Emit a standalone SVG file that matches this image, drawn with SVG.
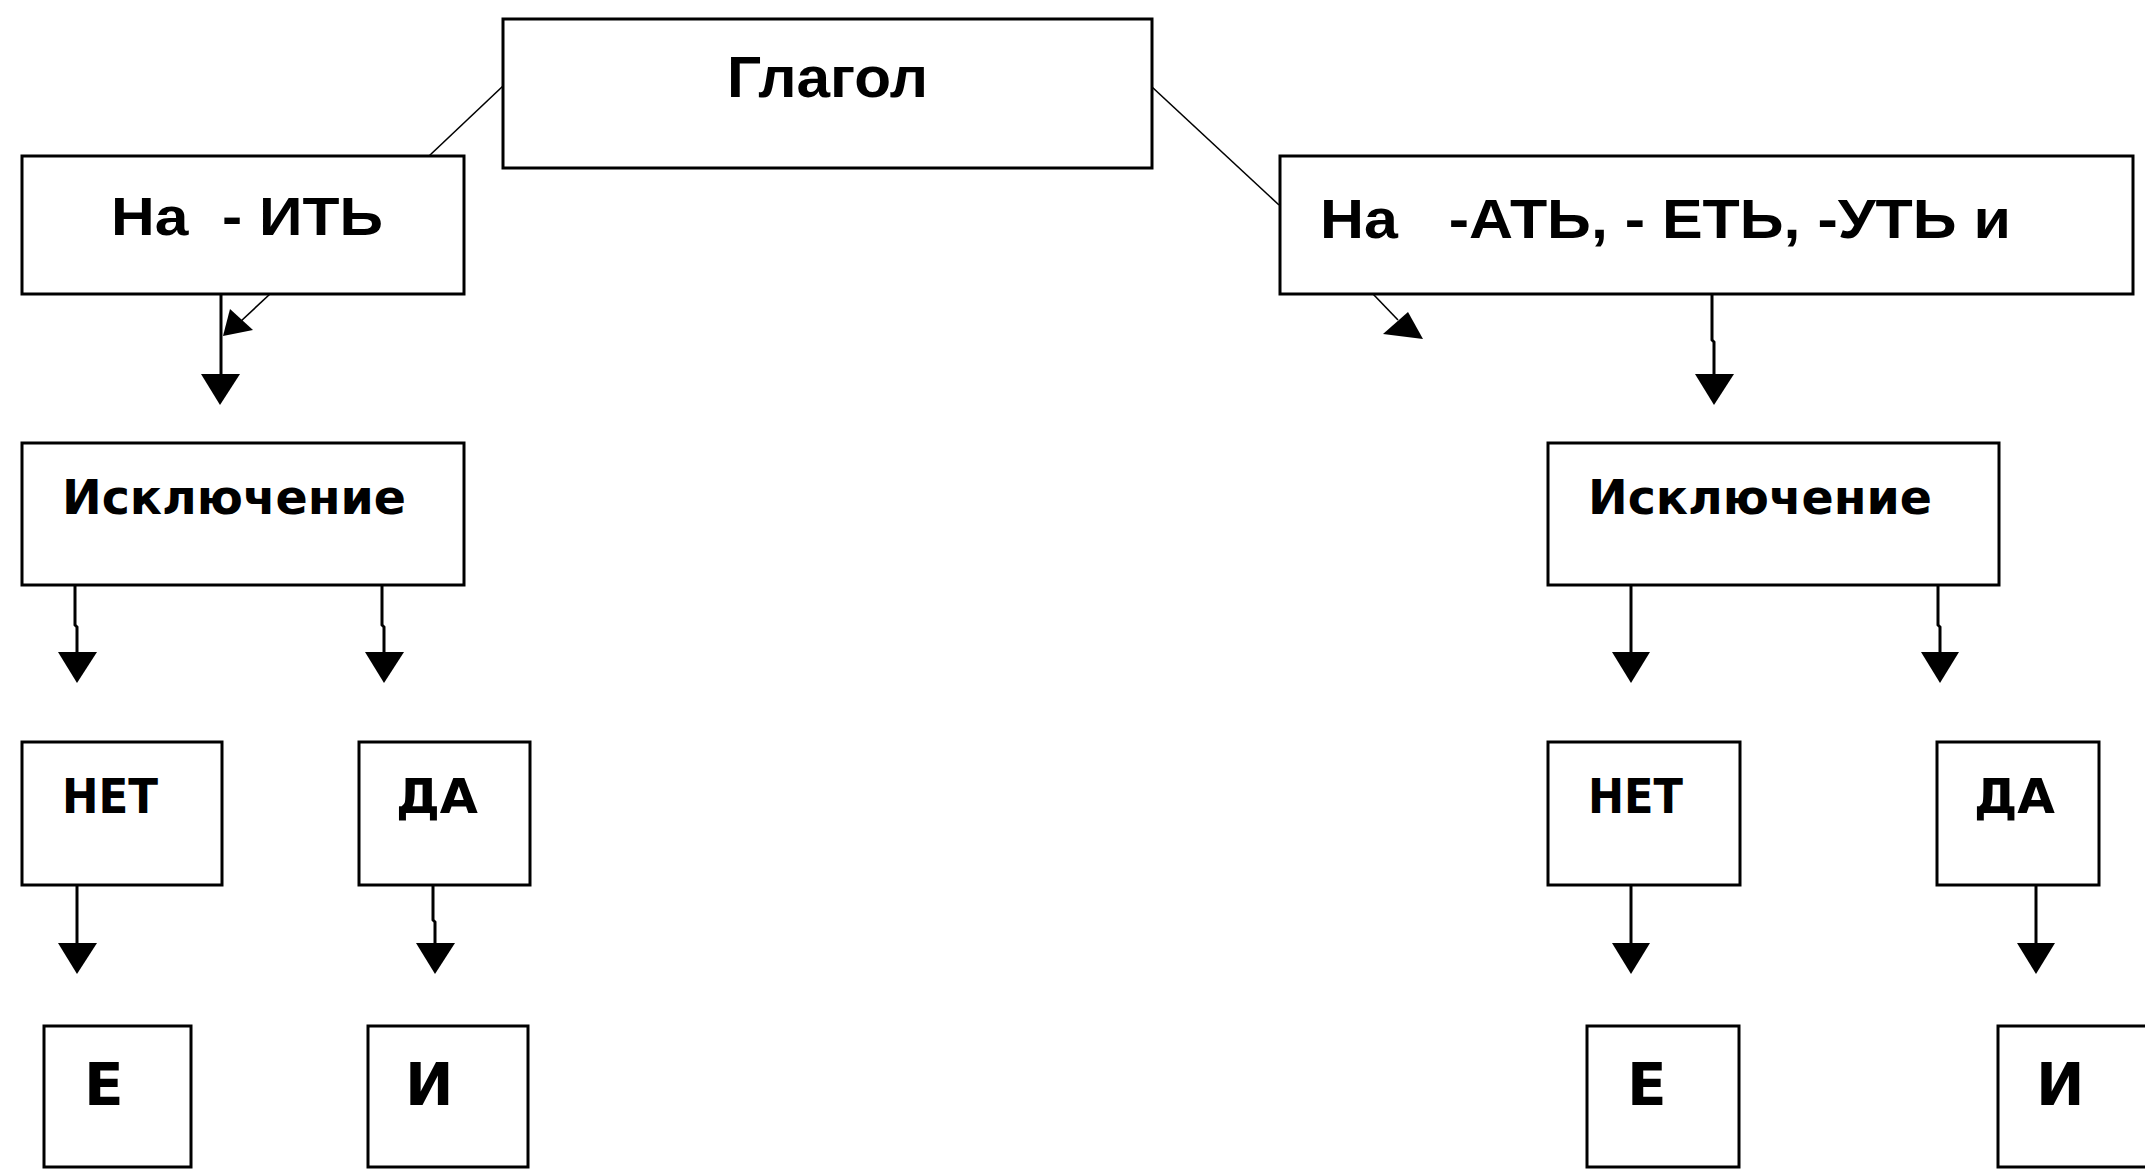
<svg xmlns="http://www.w3.org/2000/svg" width="2145" height="1169" viewBox="0 0 2145 1169">
<style>
.box{fill:#fff;stroke:#000;stroke-width:3}
.t1{font-family:"Liberation Sans",Arial,sans-serif;font-weight:bold;fill:#000}
.t2{font-family:"DejaVu Sans",Verdana,sans-serif;font-weight:bold;fill:#000}
.ln{fill:none;stroke:#000;stroke-width:3}
.thin{fill:none;stroke:#000;stroke-width:1.6}
.ah{fill:#000;stroke:none}
</style>
<rect width="2145" height="1169" fill="#fff"/>
<g id="connectors">
<line class="thin" x1="503" y1="86" x2="429" y2="156"/>
<line class="thin" x1="1152" y1="87" x2="1279" y2="205"/>
<line class="ln" x1="221" y1="294" x2="221" y2="378"/>
<polygon class="ah" points="201,374 240,374 220,405"/>
<line class="thin" x1="270" y1="294" x2="240" y2="322"/>
<polygon class="ah" points="230,309 253,330 223,336"/>
<line class="thin" x1="1373" y1="294" x2="1398" y2="320"/>
<polygon class="ah" points="1383,334 1408,312 1423,339"/>
<polyline class="ln" points="1712,294 1712,340 1714,342 1714,378"/>
<polygon class="ah" points="1695,374 1734,374 1714,405"/>
<polyline class="ln" points="75,585 75,625 77,627 77,656"/>
<polygon class="ah" points="58,652 97,652 77,683"/>
<polyline class="ln" points="382,585 382,625 384,627 384,656"/>
<polygon class="ah" points="365,652 404,652 384,683"/>
<line class="ln" x1="77" y1="885" x2="77" y2="947"/>
<polygon class="ah" points="58,943 97,943 77,974"/>
<polyline class="ln" points="433,885 433,920 435,922 435,947"/>
<polygon class="ah" points="416,943 455,943 435,974"/>
<line class="ln" x1="1631" y1="585" x2="1631" y2="656"/>
<polygon class="ah" points="1612,652 1650,652 1631,683"/>
<polyline class="ln" points="1938,585 1938,625 1940,627 1940,656"/>
<polygon class="ah" points="1921,652 1959,652 1940,683"/>
<line class="ln" x1="1631" y1="885" x2="1631" y2="947"/>
<polygon class="ah" points="1612,943 1650,943 1631,974"/>
<line class="ln" x1="2036" y1="885" x2="2036" y2="947"/>
<polygon class="ah" points="2017,943 2055,943 2036,974"/>
</g>
<g id="glagol"><rect class="box" x="503" y="19" width="649" height="149"/><text class="t1" x="727" y="97" font-size="58" textLength="201" lengthAdjust="spacingAndGlyphs">Глагол</text></g>
<g id="na-it"><rect class="box" x="22" y="156" width="442" height="138"/><text class="t1" x="111" y="235" font-size="54" xml:space="preserve" textLength="272" lengthAdjust="spacingAndGlyphs">На  - ИТЬ</text></g>
<g id="na-at"><rect class="box" x="1280" y="156" width="853" height="138"/><text class="t1" x="1320" y="238" font-size="56" xml:space="preserve" textLength="691" lengthAdjust="spacingAndGlyphs">На   -АТЬ, - ЕТЬ, -УТЬ и</text></g>
<g id="iskl-left"><rect class="box" x="22" y="443" width="442" height="142"/><text class="t2" x="62" y="514" font-size="48" textLength="344" lengthAdjust="spacingAndGlyphs">Исключение</text></g>
<g id="iskl-right"><rect class="box" x="1548" y="443" width="451" height="142"/><text class="t2" x="1588" y="514" font-size="48" textLength="344" lengthAdjust="spacingAndGlyphs">Исключение</text></g>
<g id="net-left"><rect class="box" x="22" y="742" width="200" height="143"/><text class="t2" x="62" y="813" font-size="48" textLength="96" lengthAdjust="spacingAndGlyphs">НЕТ</text></g>
<g id="da-left"><rect class="box" x="359" y="742" width="171" height="143"/><text class="t2" x="396" y="813" font-size="48" textLength="82" lengthAdjust="spacingAndGlyphs">ДА</text></g>
<g id="net-right"><rect class="box" x="1548" y="742" width="192" height="143"/><text class="t2" x="1588" y="813" font-size="48" textLength="95" lengthAdjust="spacingAndGlyphs">НЕТ</text></g>
<g id="da-right"><rect class="box" x="1937" y="742" width="162" height="143"/><text class="t2" x="1974" y="813" font-size="48" textLength="81" lengthAdjust="spacingAndGlyphs">ДА</text></g>
<g id="e-left"><rect class="box" x="44" y="1026" width="147" height="141"/><text class="t2" x="84" y="1105" font-size="58">Е</text></g>
<g id="i-left"><rect class="box" x="368" y="1026" width="160" height="141"/><text class="t2" x="405" y="1105" font-size="58">И</text></g>
<g id="e-right"><rect class="box" x="1587" y="1026" width="152" height="141"/><text class="t2" x="1627" y="1105" font-size="58">Е</text></g>
<g id="i-right"><rect class="box" x="1998" y="1026" width="160" height="141"/><text class="t2" x="2036" y="1105" font-size="58">И</text></g>
</svg>
